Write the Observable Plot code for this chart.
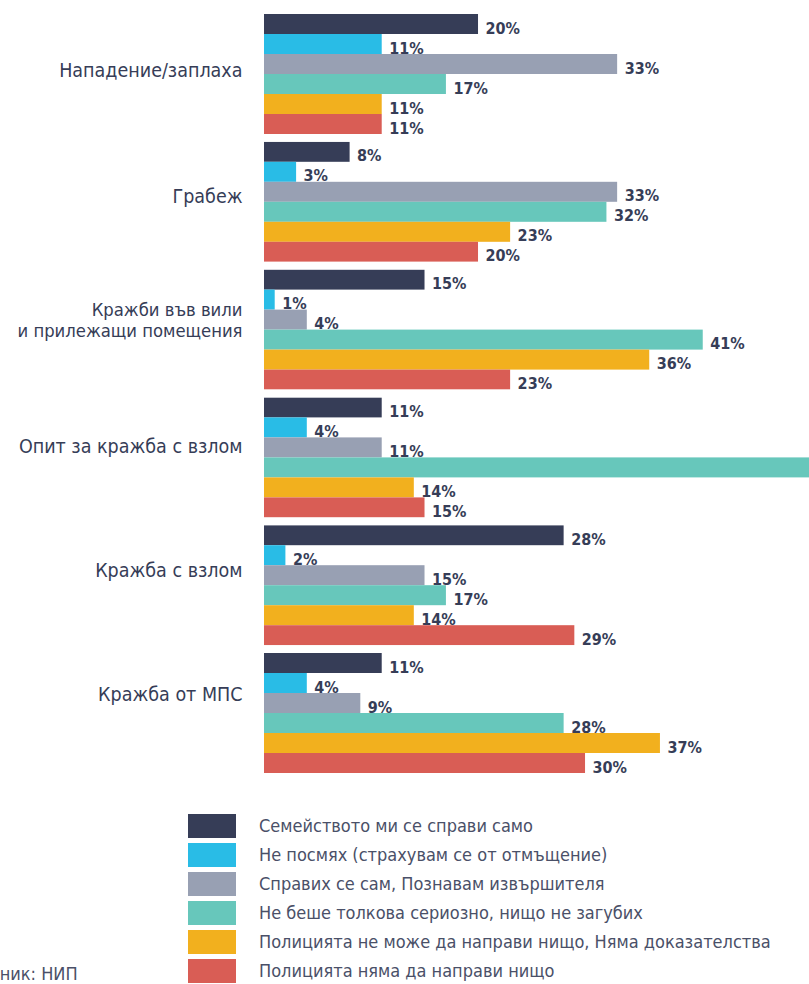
<!DOCTYPE html>
<html>
<head>
<meta charset="utf-8">
<script src="https://cdn.jsdelivr.net/npm/d3@7"></script>
<script src="https://cdn.jsdelivr.net/npm/@observablehq/plot@0.6"></script>
<style>
  html, body { margin: 0; padding: 0; background: #fff; overflow: hidden; width: 809px; height: 984px; }
  body { position: relative; font-family: "DejaVu Sans Condensed", "DejaVu Sans", sans-serif; font-stretch: condensed; }
  #chart { position: absolute; left: 0; top: 0; }
  #legend { position: absolute; left: 188px; top: 814px; }
  .row { height: 29px; display: flex; align-items: flex-start; }
  .sw { width: 48px; height: 24px; flex: none; }
  .lab { margin-left: 23px; font-size: 18px; line-height: 24px; color: #4a5068; white-space: nowrap; }
  #source { position: absolute; left: -50px; top: 962px; font-size: 18px; line-height: 24px; color: #4a5068; white-space: nowrap; }
</style>
</head>
<body>
<div id="chart"></div>
<div id="legend"></div>
<div id="source">Източник: НИП</div>
<script>
const categories = [
  "Нападение/заплаха",
  "Грабеж",
  "Кражби във вили\nи прилежащи помещения",
  "Опит за кражба с взлом",
  "Кражба с взлом",
  "Кражба от МПС"
];
const series = [
  "Семейството ми се справи само",
  "Не посмях (страхувам се от отмъщение)",
  "Справих се сам, Познавам извършителя",
  "Не беше толкова сериозно, нищо не загубих",
  "Полицията не може да направи нищо, Няма доказателства",
  "Полицията няма да направи нищо"
];
const colors = ["#363d57", "#29bce6", "#98a0b3", "#67c7bb", "#f2b01e", "#d95d55"];

const familyHandled  = [20, 8, 15, 11, 28, 11];
const didNotDare     = [11, 3, 1, 4, 2, 4];
const handledMyself  = [33, 33, 4, 11, 15, 9];
const notSerious     = [17, 32, 41, 55, 17, 28];
const policeCannot   = [11, 23, 36, 14, 14, 37];
const policeWont     = [11, 20, 23, 15, 29, 30];
const seriesValues = [familyHandled, didNotDare, handledMyself, notSerious, policeCannot, policeWont];

// vertical nudge and size of each category label (style)
const labelNudge = [-4, -6, -10, -12, -16, -19];
const labelSize = [19.5, 19.5, 18.3, 19.5, 19.5, 19.5];

const rows = [];
categories.forEach((c, ci) => {
  series.forEach((s, si) => {
    rows.push({category: c, series: s, value: seriesValues[si][ci]});
  });
});

const xMax = 50.93;

const chart = Plot.plot({
  width: 809,
  height: 790,
  marginLeft: 264,
  marginRight: 0,
  marginTop: 14,
  marginBottom: 17,
  style: {fontFamily: "'DejaVu Sans Condensed', 'DejaVu Sans', sans-serif", background: "white", overflow: "hidden"},
  x: {domain: [0, xMax], axis: null},
  y: {domain: series, axis: null, padding: 0, round: false},
  fy: {domain: categories, paddingInner: 0.061, paddingOuter: 0, round: false, label: null, axis: null},
  color: {domain: series, range: colors},
  marks: [
    Plot.barX(rows, {x: "value", y: "series", fy: "category", fill: "series", clip: true}),
    Plot.text(rows.filter(d => d.value < xMax), {
      x: "value", y: "series", fy: "category",
      text: d => d.value + "%",
      textAnchor: "start", dx: 7, dy: 4,
      fontWeight: "bold", fontSize: 16, fill: "#363d57"
    }),
    ...categories.map((c, i) => Plot.text([c], {
      fy: d => d, text: d => d,
      frameAnchor: "left", textAnchor: "end", lineAnchor: "middle",
      dx: -22, dy: labelNudge[i],
      fontSize: labelSize[i], lineHeight: 1.1, fill: "#363d57"
    }))
  ]
});
document.getElementById("chart").appendChild(chart);

const legend = document.getElementById("legend");
series.forEach((s, i) => {
  const row = document.createElement("div");
  row.className = "row";
  const sw = document.createElement("div");
  sw.className = "sw";
  sw.style.background = colors[i];
  const lab = document.createElement("div");
  lab.className = "lab";
  lab.textContent = s;
  row.appendChild(sw);
  row.appendChild(lab);
  legend.appendChild(row);
});
</script>
</body>
</html>
